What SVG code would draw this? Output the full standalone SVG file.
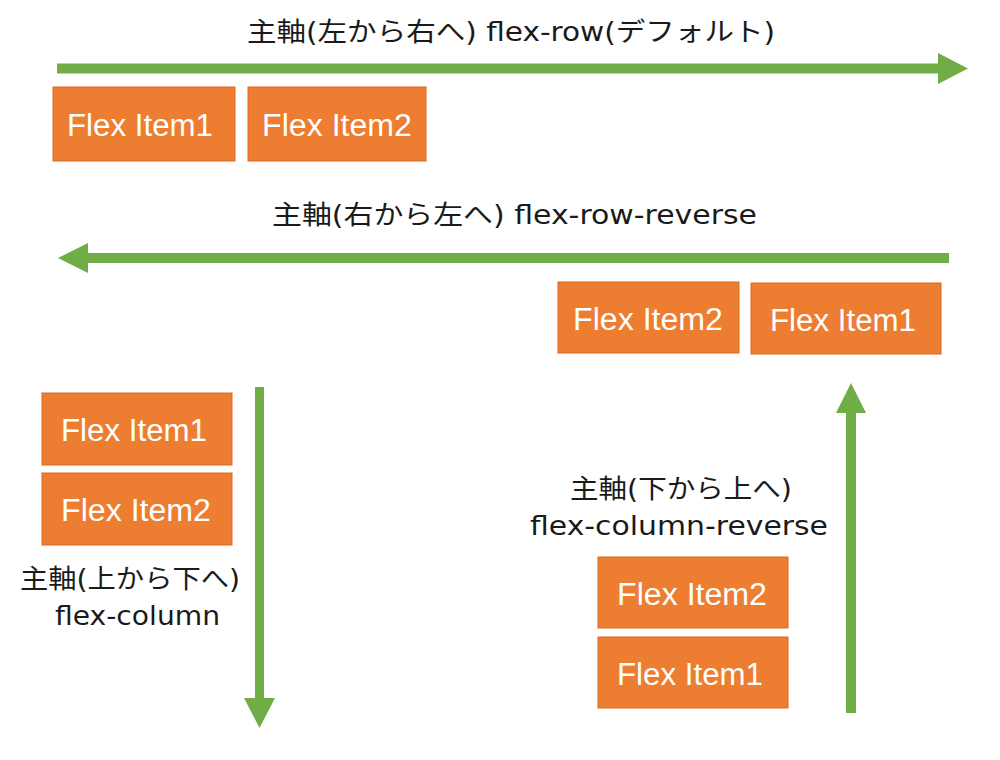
<svg xmlns="http://www.w3.org/2000/svg" width="1000" height="760" viewBox="0 0 1000 760">
<style>
.box{fill:#ED7D31;stroke:#DB6B22;stroke-width:1}
.bt{font-family:"Liberation Sans",Arial,sans-serif;font-size:31px;fill:#FFFFFF;text-anchor:middle}
.lbl{font-family:"DejaVu Sans","Noto Sans CJK JP",sans-serif;font-size:26px;fill:#1A1A1A}
.arr{fill:#70AD47}
</style>
<rect width="1000" height="760" fill="#FFFFFF"/>
<g id="connectors">
<path class="arr" d="M57,63.5 H938 V53 L968,68.5 L938,84 V73.5 H57 Z"/>
<path class="arr" d="M949,253 H88 V243 L58,258 L88,273 V263 H949 Z"/>
<path class="arr" d="M255,387 V698 H244 L259.5,728 L275,698 H264 V387 Z"/>
<path class="arr" d="M846,713 V413 H836 L851,383 L866,413 H856 V713 Z"/>
</g>
<g id="labels">
<text class="lbl" x="247" y="41" textLength="528" lengthAdjust="spacingAndGlyphs">主軸(左から右へ) flex-row(デフォルト)</text>
<text class="lbl" x="272" y="224" textLength="485" lengthAdjust="spacingAndGlyphs">主軸(右から左へ) flex-row-reverse</text>
<text class="lbl" x="20" y="588" textLength="220" lengthAdjust="spacingAndGlyphs">主軸(上から下へ)</text>
<text class="lbl" x="55" y="625" textLength="165" lengthAdjust="spacingAndGlyphs">flex-column</text>
<text class="lbl" x="570" y="498" textLength="222" lengthAdjust="spacingAndGlyphs">主軸(下から上へ)</text>
<text class="lbl" x="530" y="535" textLength="298" lengthAdjust="spacingAndGlyphs">flex-column-reverse</text>
</g>
<g id="row-item1"><rect class="box" x="53" y="87" width="182" height="74"/><text class="bt" x="140" y="136" textLength="146" lengthAdjust="spacingAndGlyphs">Flex Item1</text></g>
<g id="row-item2"><rect class="box" x="248" y="87" width="178" height="74"/><text class="bt" x="337" y="136" textLength="150" lengthAdjust="spacingAndGlyphs">Flex Item2</text></g>
<g id="rowrev-item2"><rect class="box" x="558" y="282" width="181" height="71"/><text class="bt" x="648" y="330" textLength="150" lengthAdjust="spacingAndGlyphs">Flex Item2</text></g>
<g id="rowrev-item1"><rect class="box" x="751" y="283" width="190" height="71"/><text class="bt" x="843" y="331" textLength="146" lengthAdjust="spacingAndGlyphs">Flex Item1</text></g>
<g id="col-item1"><rect class="box" x="42" y="393" width="190" height="72"/><text class="bt" x="134" y="441" textLength="146" lengthAdjust="spacingAndGlyphs">Flex Item1</text></g>
<g id="col-item2"><rect class="box" x="42" y="473" width="190" height="72"/><text class="bt" x="136" y="521" textLength="150" lengthAdjust="spacingAndGlyphs">Flex Item2</text></g>
<g id="colrev-item2"><rect class="box" x="598" y="557" width="190" height="71"/><text class="bt" x="692" y="605" textLength="150" lengthAdjust="spacingAndGlyphs">Flex Item2</text></g>
<g id="colrev-item1"><rect class="box" x="598" y="637" width="190" height="71"/><text class="bt" x="690" y="685" textLength="146" lengthAdjust="spacingAndGlyphs">Flex Item1</text></g>
</svg>
